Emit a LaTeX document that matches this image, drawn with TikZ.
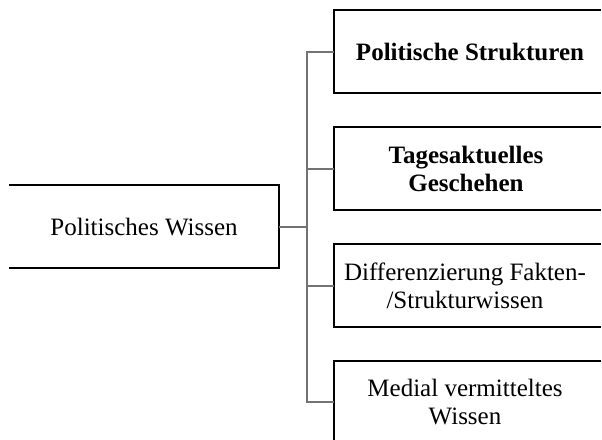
\documentclass[tikz,border=0pt]{standalone}
\usepackage{fontspec}
\setmainfont{Liberation Serif}
\begin{document}
\begin{tikzpicture}[x=1pt,y=-1pt,
  boxline/.style={draw=black,line width=1.1pt},
  conn/.style={draw=black!55,line width=1.5pt},
  lbl/.style={align=center,font=\fontsize{25}{27.5}\selectfont,inner sep=0pt},
  blbl/.style={lbl,font=\fontsize{25}{27.5}\selectfont\bfseries}]
\useasboundingbox (0,0) rectangle (602,439);
\clip (0,0) rectangle (602,439);
% nodes (text)
\node[lbl]  (root) at (144,227) {Politisches Wissen};
\node[blbl] (b1) at (470,52) {Politische Strukturen};
\node[blbl] (b2) at (466,169) {Tagesaktuelles\\Geschehen};
\node[lbl]  (b3) at (465,286) {Differenzierung Fakten-\\/Strukturwissen};
\node[lbl]  (b4) at (465,402) {Medial vermitteltes\\Wissen};
% box outlines
\draw[boxline] (9,185) -- (279,185) -- (279,268) -- (9,268);
\foreach \t in {10,127,244,361}{
  \draw[boxline] (601,\t) -- (334,\t) -- (334,\t+83) -- (601,\t+83);
}
\coordinate (root e) at (279,227);
\coordinate (trunk) at (307,227);
\coordinate (c1) at (334,52);
\coordinate (c2) at (334,169);
\coordinate (c3) at (334,286);
\coordinate (c4) at (334,402);
% connectors
\draw[conn] (root e) -- (trunk);
\draw[conn] (c1) -| (trunk |- c4) -- (c4);
\draw[conn] (trunk |- c2) -- (c2);
\draw[conn] (trunk |- c3) -- (c3);
\end{tikzpicture}
\end{document}
